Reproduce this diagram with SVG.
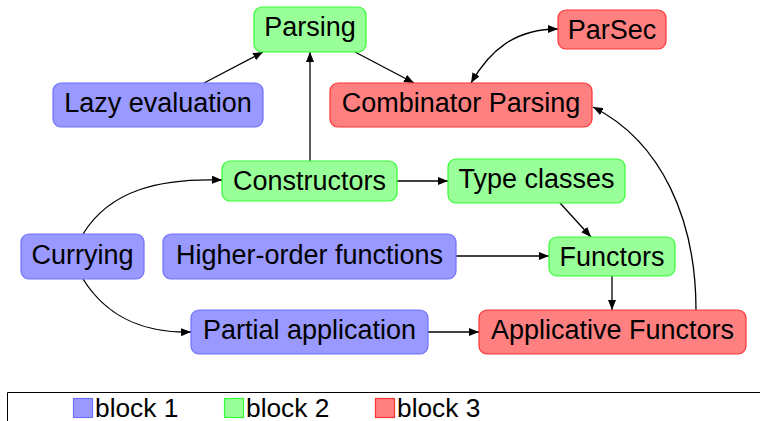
<svg xmlns="http://www.w3.org/2000/svg" width="760" height="421" viewBox="0 0 760 421">
<defs>
<style>
text{font-family:"Liberation Sans",Arial,sans-serif;font-size:27px;fill:#000;text-anchor:middle}
.b1{fill:#9999ff;stroke:#7070ff;stroke-width:1.2}
.b2{fill:#99ff99;stroke:#33ff33;stroke-width:1.2}
.b3{fill:#ff8080;stroke:#ff3333;stroke-width:1.2}
.e{fill:none;stroke:#000;stroke-width:1.3}
.lg{font-size:26.3px;text-anchor:start}
</style>
<marker id="ah" viewBox="0 0 10 8" refX="10" refY="4" markerWidth="10" markerHeight="8" markerUnits="userSpaceOnUse" orient="auto-start-reverse">
<path d="M0,0 L10,4 L0,8 Z" fill="#000"/>
</marker>
</defs>
<g id="connectors">
<path class="e" d="M204,83 L263,52" marker-end="url(#ah)"/>
<path class="e" d="M310,161 L310,52" marker-end="url(#ah)"/>
<path class="e" d="M355,52 L414,83" marker-end="url(#ah)"/>
<path class="e" d="M471,83 C490,50 515,29 558,29" marker-start="url(#ah)" marker-end="url(#ah)"/>
<path class="e" d="M696,310 C696,220 662,142 593,107" marker-end="url(#ah)"/>
<path class="e" d="M397,181 L448,181" marker-end="url(#ah)"/>
<path class="e" d="M560,203 L591,237" marker-end="url(#ah)"/>
<path class="e" d="M456,256 L549,256" marker-end="url(#ah)"/>
<path class="e" d="M612,276 L612,310" marker-end="url(#ah)"/>
<path class="e" d="M428,332 L479,332" marker-end="url(#ah)"/>
<path class="e" d="M83,234 C110,190 160,178 222,180" marker-end="url(#ah)"/>
<path class="e" d="M83,279 C110,322 150,333 191,332" marker-end="url(#ah)"/>
</g>
<g id="parsing"><rect class="b2" x="254" y="7" width="112" height="45" rx="8"/><text x="310" y="36">Parsing</text></g>
<g id="lazy"><rect class="b1" x="53" y="83" width="210" height="44" rx="8"/><text x="158" y="112">Lazy evaluation</text></g>
<g id="combinator"><rect class="b3" x="330" y="83" width="262" height="44" rx="8"/><text x="461" y="112">Combinator Parsing</text></g>
<g id="parsec"><rect class="b3" x="558" y="10" width="108" height="39" rx="8"/><text x="612" y="38.5">ParSec</text></g>
<g id="constructors"><rect class="b2" x="222" y="161" width="175" height="40" rx="8"/><text x="309.5" y="190">Constructors</text></g>
<g id="typeclasses"><rect class="b2" x="448" y="159" width="177" height="44" rx="8"/><text x="536.5" y="188">Type classes</text></g>
<g id="currying"><rect class="b1" x="21" y="234" width="123" height="45" rx="8"/><text x="82.5" y="264">Currying</text></g>
<g id="higherorder"><rect class="b1" x="163" y="234" width="293" height="45" rx="8"/><text x="309.5" y="264">Higher-order functions</text></g>
<g id="functors"><rect class="b2" x="549" y="237" width="126" height="39" rx="8"/><text x="612" y="265.5">Functors</text></g>
<g id="partial"><rect class="b1" x="191" y="310" width="237" height="44" rx="8"/><text x="309.5" y="339">Partial application</text></g>
<g id="applicative"><rect class="b3" x="479" y="310" width="267" height="44" rx="8"/><text x="612.5" y="339">Applicative Functors</text></g>
<g id="legend">
<path d="M7.5,421 L7.5,392.5 L760,392.5" fill="none" stroke="#000" stroke-width="1"/>
<rect class="b1" x="73.5" y="398.5" width="19" height="19"/><text class="lg" x="95" y="416.5">block 1</text>
<rect class="b2" x="224.5" y="398.5" width="19" height="19"/><text class="lg" x="246" y="416.5">block 2</text>
<rect class="b3" x="375.5" y="398.5" width="19" height="19"/><text class="lg" x="397" y="416.5">block 3</text>
</g>
</svg>
